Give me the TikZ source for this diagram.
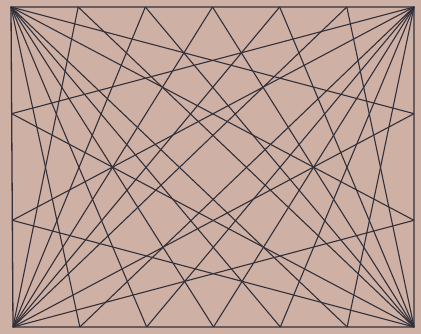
\documentclass[tikz,border=0pt]{standalone}
\usetikzlibrary{calc}
\definecolor{paper}{RGB}{206,176,164}
\definecolor{ink}{RGB}{50,48,58}
\begin{document}
\begin{tikzpicture}[x=1pt, y=-1pt,
    frame/.style={draw=ink, line width=1.3pt},
    ray/.style={draw=ink, line width=1.1pt}
]
\fill[paper] (0,0) rectangle (421,334);
% corners
\coordinate (tl) at (11,7);
\coordinate (tr) at (414,7);
\coordinate (bl) at (13,327);
\coordinate (br) at (414,327);
\draw[frame] (tl) -- (tr) -- (br) -- (bl) -- cycle;
% points on the sides
\foreach \i in {1,...,5} {
  \coordinate (t\i) at ($(tl)!\i/6!(tr)$);
  \coordinate (b\i) at ($(bl)!\i/6!(br)$);
}
\foreach \j in {1,2} {
  \coordinate (l\j) at ($(tl)!\j/3!(bl)$);
  \coordinate (r\j) at ($(tr)!\j/3!(br)$);
}
% fans from the corners
\foreach \i in {1,...,5} {
  \draw[ray] (tl) -- (b\i);
  \draw[ray] (tr) -- (b\i);
  \draw[ray] (bl) -- (t\i);
  \draw[ray] (br) -- (t\i);
}
\foreach \j in {1,2} {
  \draw[ray] (tl) -- (r\j);
  \draw[ray] (bl) -- (r\j);
  \draw[ray] (tr) -- (l\j);
  \draw[ray] (br) -- (l\j);
}
\end{tikzpicture}
\end{document}
